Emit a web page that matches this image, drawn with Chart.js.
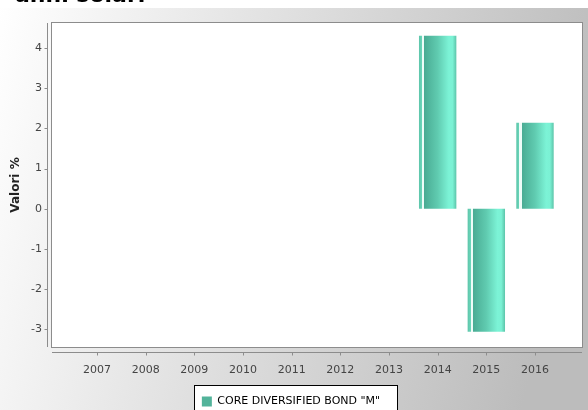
<!DOCTYPE html>
<html><head><meta charset="utf-8">
<script src="https://cdn.jsdelivr.net/npm/chart.js@4"></script>
<style>
html,body{margin:0;padding:0;background:#fff;overflow:hidden;}
#wrap{position:relative;width:588px;height:410px;overflow:hidden;}
#title{position:absolute;left:15px;top:-16px;font:bold 22px "DejaVu Sans";line-height:22px;color:#000;white-space:nowrap;z-index:2}
canvas{position:absolute;left:0;top:0}
</style></head><body>
<div id="wrap"><canvas id="c" width="588" height="410"></canvas><div id="title"></div></div>
<script>
const TITLE = 'anni solari';
const YEARS = [2007, 2008, 2009, 2010, 2011, 2012, 2013, 2014, 2015, 2016];
const VALUES = [null, null, null, null, null, null, null, 4.31, -3.07, 2.14];
const SERIES_NAME = 'CORE DIVERSIFIED BOND "M"';
const Y_TICKS = [-3, -2, -1, 0, 1, 2, 3, 4];
const Y_TITLE = 'Valori %';
const SWATCH = '#52b39a';

document.getElementById('title').textContent = TITLE;
Chart.defaults.font.family = '"DejaVu Sans", sans-serif';

function barGradient(ctx, x0, w) {
  const g = ctx.createLinearGradient(x0, 0, x0 + w, 0);
  const s = (p, c) => g.addColorStop(Math.min(1, Math.max(0, p)), c);
  const px = v => v / w;
  s(0, '#5dc5aa'); s(px(3.0), '#6cd6ba'); s(px(3.1), '#effcf8'); s(px(5.2), '#effcf8'); s(px(5.3), '#49ab93');
  s(0.5, '#60cbb0'); s(0.8, '#7cf3d6'); s(0.9, '#7bf1d4'); s(1, '#5cc4a9');
  return g;
}

const decor = {
  id: 'decor',
  beforeDraw(chart) {
    const ctx = chart.ctx, a = chart.chartArea;
    ctx.save();
    ctx.fillStyle = '#fff'; ctx.fillRect(0, 0, chart.width, chart.height);
    const g = ctx.createLinearGradient(0, 0, 588, 150);
    g.addColorStop(0, '#ffffff'); g.addColorStop(1, '#bcbcbc');
    ctx.fillStyle = g; ctx.fillRect(0, 8, chart.width, chart.height - 8);
    ctx.fillStyle = '#fff'; ctx.fillRect(a.left, a.top, a.right - a.left, a.bottom - a.top);
    ctx.strokeStyle = '#8c8c8c'; ctx.lineWidth = 1;
    ctx.strokeRect(a.left - 0.5, a.top - 0.5, a.right - a.left + 1, a.bottom - a.top + 1);
    const ys = chart.scales.y, xs = chart.scales.x;
    const ax = a.left - 4.5, ay = a.bottom + 5.5;
    ctx.beginPath();
    ctx.moveTo(ax, a.top); ctx.lineTo(ax, a.bottom);
    ys.ticks.forEach(t => { const p = Math.round(ys.getPixelForValue(t.value)) + 0.5; ctx.moveTo(ax - 3, p); ctx.lineTo(ax, p); });
    ctx.moveTo(a.left, ay); ctx.lineTo(a.right, ay);
    xs.ticks.forEach(t => { const p = Math.round(xs.getPixelForValue(t.value)) + 0.5; ctx.moveTo(p, ay); ctx.lineTo(p, ay + 3); });
    ctx.stroke();
    const hb = chart.legend && chart.legend.legendHitBoxes && chart.legend.legendHitBoxes[0];
    if (hb) {
      const l = Math.round(hb.left - 8) + 0.5, t = Math.round(hb.top - 11) + 0.5;
      const w = Math.round(hb.width + 25);
      ctx.fillStyle = '#fff'; ctx.fillRect(l, t, w, 60);
      ctx.strokeStyle = '#000'; ctx.strokeRect(l, t, w, 60);
    }
    ctx.restore();
  },
  beforeDatasetsDraw(chart) {
    const meta = chart.getDatasetMeta(0);
    meta.data.forEach(el => {
      if (el.skip || el.width == null || isNaN(el.x)) return;
      const x0 = el.x - el.width / 2;
      el.options = Object.assign({}, el.options, { backgroundColor: barGradient(chart.ctx, x0, el.width) });
    });
  }
};

new Chart(document.getElementById('c'), {
  type: 'bar',
  data: {
    datasets: [{
      label: SERIES_NAME,
      data: YEARS.map((y, i) => ({ x: y, y: VALUES[i] })),
      backgroundColor: SWATCH,
      borderWidth: 0,
      categoryPercentage: 0.8,
      barPercentage: 0.96
    }]
  },
  options: {
    responsive: false,
    animation: false,
    events: [],
    layout: { padding: { left: 0, right: 6, top: 23, bottom: -7 } },
    plugins: {
      legend: {
        position: 'bottom',
        labels: { boxWidth: 10, boxHeight: 10, padding: 4, color: '#000', font: { size: 11 } }
      },
      tooltip: { enabled: false },
      title: { display: false }
    },
    scales: {
      x: {
        type: 'linear', min: 2006.075, max: 2016.966, offset: false,
        grid: { display: false, drawTicks: false, offset: false }, border: { display: false },
        ticks: { font: { size: 11 }, color: '#444', padding: 17, autoSkip: false, maxRotation: 0, callback: v => String(v) },
        afterBuildTicks: s => { s.ticks = YEARS.map(v => ({ value: v })); },
        afterFit: s => { s.height = 45; }
      },
      y: {
        min: -3.45, max: 4.63,
        grid: { display: false, drawTicks: false }, border: { display: false },
        ticks: { font: { size: 11 }, color: '#444', padding: 10 },
        afterBuildTicks: s => { s.ticks = Y_TICKS.map(v => ({ value: v })); },
        title: { display: true, text: Y_TITLE, color: '#222', font: { size: 12, weight: 'bold' }, padding: { top: 9, bottom: 0 } },
        afterFit: s => { s.width = 52; }
      }
    }
  },
  plugins: [decor]
});
</script>
</body></html>
